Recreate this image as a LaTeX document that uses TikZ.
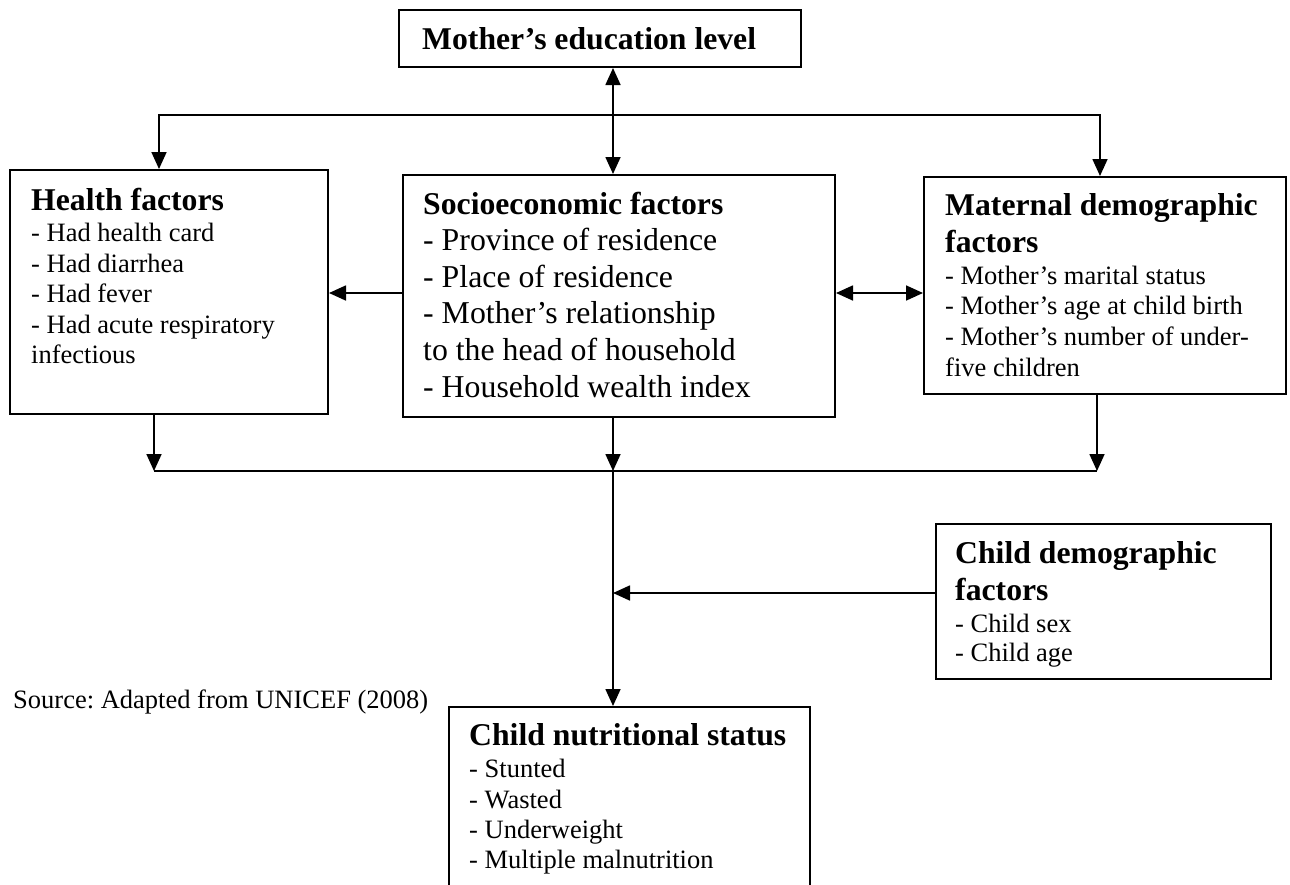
\documentclass[tikz,border=0pt]{standalone}
\usepackage{fontspec}
\setmainfont{Liberation Serif}
\usetikzlibrary{arrows.meta}
\frenchspacing
\begin{document}
\begin{tikzpicture}[x=1pt,y=-1pt,
  box/.style={draw,line width=2pt,inner sep=0pt,anchor=north west},
  ln/.style={line width=1.7pt},
  arr/.style={ln,-{Triangle[length=17pt,width=15pt]}},
  darr/.style={ln,line join=miter,{Triangle[length=17pt,width=15pt]}-{Triangle[length=17pt,width=15pt]}},
  hd/.style={anchor=base west,inner sep=0pt,font=\fontsize{31.7}{36}\selectfont\bfseries},
  it/.style={anchor=base west,inner sep=0pt,font=\fontsize{26.5}{30}\selectfont},
  itl/.style={anchor=base west,inner sep=0pt,font=\fontsize{31.8}{36}\selectfont}]
\clip (0,0) rectangle (1290,884);
\fill[white] (0,0) rectangle (1290,884);
% boxes
\node[box,minimum width=402pt,minimum height=57pt] (edu) at (398,9) {};
\node[box,minimum width=318pt,minimum height=244pt] (health) at (9,169) {};
\node[box,minimum width=432pt,minimum height=242pt] (socio) at (402,174) {};
\node[box,minimum width=362pt,minimum height=217pt] (mat) at (923,176) {};
\node[box,minimum width=335pt,minimum height=155pt] (cdem) at (935,523) {};
\node[box,minimum width=361pt,minimum height=220pt] (cnut) at (448,706) {};
% texts
\node[hd] (t1) at (422,49) {Mother’s education level};
\node[hd] (h0) at (31,210) {Health factors};
\node[it] (h1) at (31,241) {- Had health card};
\node[it] (h2) at (31,272) {- Had diarrhea};
\node[it] (h3) at (31,302) {- Had fever};
\node[it] (h4) at (31,333) {- Had acute respiratory};
\node[it] (h5) at (31,363) {infectious};
\node[hd] (s0) at (423,214) {Socioeconomic factors};
\node[itl] (s1) at (423,250) {- Province of residence};
\node[itl] (s2) at (423,287) {- Place of residence};
\node[itl] (s3) at (423,323) {- Mother’s relationship};
\node[itl] (s4) at (423,360) {to the head of household};
\node[itl] (s5) at (423,397) {- Household wealth index};
\node[hd] (m0) at (945,215) {Maternal demographic};
\node[hd] (m1) at (945,252) {factors};
\node[it] (m2) at (945,284) {- Mother’s marital status};
\node[it] (m3) at (945,314) {- Mother’s age at child birth};
\node[it] (m4) at (945,345) {- Mother’s number of under-};
\node[it] (m5) at (945,376) {five children};
\node[hd] (c0) at (955,563) {Child demographic};
\node[hd] (c1) at (955,600) {factors};
\node[it] (c2) at (955,632) {- Child sex};
\node[it] (c3) at (955,661) {- Child age};
\node[hd] (n0) at (469,745) {Child nutritional status};
\node[it] (n1) at (469,777) {- Stunted};
\node[it] (n2) at (469,808) {- Wasted};
\node[it] (n3) at (469,838) {- Underweight};
\node[it] (n4) at (469,868) {- Multiple malnutrition};
\node[it] (src) at (13,708) {Source: Adapted from UNICEF (2008)};
% connectors
\coordinate (a) at (613,0);
\draw[darr] (edu.south -| a) -- (socio.north -| a);
\coordinate (tl) at (159,115);
\coordinate (tr) at (1100,115);
\draw[darr] (tl |- health.north) -- (tl) -- (tr) -- (tr |- mat.north);
\coordinate (m) at (0,293);
\draw[arr] (socio.west |- m) -- (health.east |- m);
\draw[darr] (socio.east |- m) -- (mat.west |- m);
\coordinate (bl) at (154,471);
\coordinate (bm) at (613,471);
\coordinate (br) at (1097,471);
\draw[arr] (health.south -| bl) -- (bl);
\draw[arr] (socio.south -| bm) -- (bm);
\draw[arr] (mat.south -| br) -- (br);
\draw[ln] (bl) -- (br);
\draw[arr] (bm) -- (cnut.north -| bm);
\coordinate (cm) at (0,593);
\draw[arr] (cdem.west |- cm) -- (bm |- cm);
\end{tikzpicture}
\end{document}
